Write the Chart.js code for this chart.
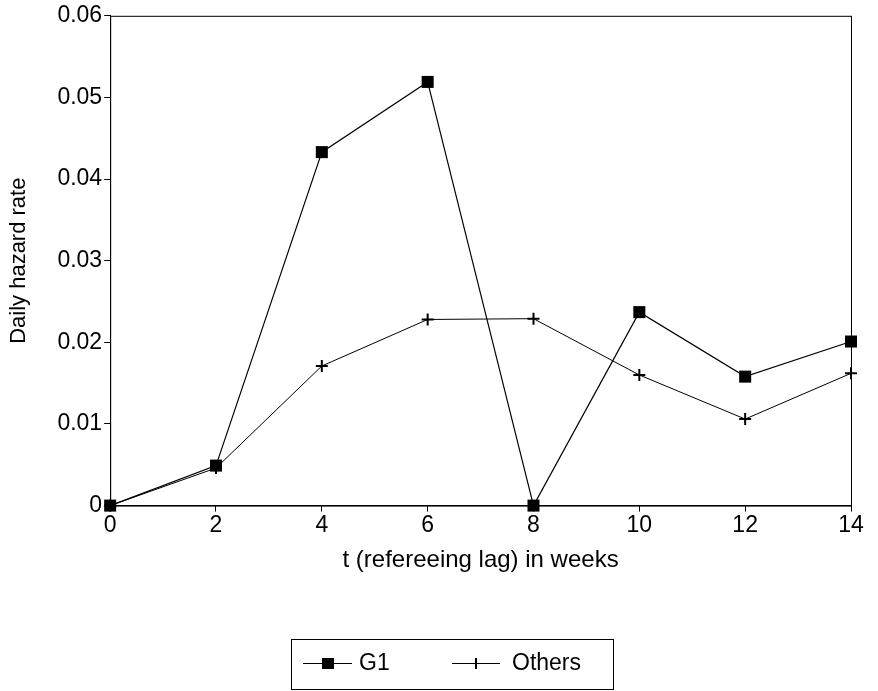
<!DOCTYPE html>
<html>
<head>
<meta charset="utf-8">
<script src="https://cdn.jsdelivr.net/npm/chart.js@4/dist/chart.umd.min.js"></script>
<style>
  html, body { margin: 0; padding: 0; background: #fff; }
  #wrap { width: 878px; height: 691px; }
</style>
</head>
<body>
<div id="wrap"><canvas id="chart" width="878" height="691"></canvas></div>
<script>
// data
const weeks = [0, 2, 4, 6, 8, 10, 12, 14];
const g1 = [0, 0.0049, 0.0433, 0.0519, 0, 0.0237, 0.0158, 0.0201];
const others = [0, 0.0046, 0.0171, 0.0228, 0.0229, 0.0160, 0.0106, 0.0162];
const seriesNames = ['G1', 'Others'];
const xTitle = 't (refereeing lag) in weeks';
const yTitle = 'Daily hazard rate';

const FONT = '"Liberation Sans", Arial, sans-serif';

// frame round the plot + boxed legend under it
const framePlugin = {
    id: 'frame',
    afterDraw(chart) {
        const ctx = chart.ctx;
        const a = chart.chartArea;
        ctx.save();
        ctx.strokeStyle = '#000';
        ctx.lineWidth = 1;
        ctx.strokeRect(a.left + 0.5, a.top + 0.5, a.right - a.left, a.bottom - a.top);

        // legend box
        const bx = 291, by = 639, bw = 322, bh = 50;
        ctx.strokeRect(bx + 0.5, by + 0.5, bw, bh);
        const cy = by + 24;
        ctx.font = '23px ' + FONT;
        ctx.fillStyle = '#000';
        ctx.textBaseline = 'middle';

        // G1 item
        ctx.beginPath();
        ctx.moveTo(303, cy + 0.5); ctx.lineTo(352, cy + 0.5);
        ctx.stroke();
        ctx.fillRect(322, cy - 5, 12, 11);
        ctx.fillText(seriesNames[0], 359, cy + 1);

        // Others item
        ctx.beginPath();
        ctx.moveTo(452, cy + 0.5); ctx.lineTo(500, cy + 0.5);
        ctx.stroke();
        ctx.lineWidth = 2;
        ctx.beginPath();
        ctx.moveTo(476, cy - 5); ctx.lineTo(476, cy + 6);
        ctx.stroke();
        ctx.fillText(seriesNames[1], 512, cy + 1);
        ctx.restore();
    }
};

const toPts = (ys) => weeks.map((w, i) => ({ x: w, y: ys[i] }));

new Chart(document.getElementById('chart').getContext('2d'), {
    type: 'line',
    data: {
        datasets: [{
            label: seriesNames[0],
            data: toPts(g1),
            borderColor: '#000',
            backgroundColor: '#000',
            borderWidth: 1.2,
            pointStyle: 'rect',
            pointRadius: 8.5,
            pointBorderWidth: 0,
            tension: 0
        }, {
            label: seriesNames[1],
            data: toPts(others),
            borderColor: '#000',
            backgroundColor: '#000',
            borderWidth: 1,
            pointStyle: 'cross',
            pointRadius: 6,
            pointBorderWidth: 2,
            tension: 0
        }]
    },
    options: {
        responsive: false,
        animation: false,
        clip: false,
        layout: { padding: { left: 2, right: 27, top: 6, bottom: 112 } },
        plugins: {
            legend: { display: false },
            tooltip: { enabled: false }
        },
        scales: {
            x: {
                type: 'linear',
                min: 0,
                max: 14,
                grid: { drawOnChartArea: false, color: '#000', tickLength: 6 },
                border: { color: '#000' },
                ticks: { stepSize: 2, color: '#000', padding: 0, font: { family: FONT, size: 23 } },
                title: { display: true, text: xTitle, color: '#000', padding: { top: 7 }, font: { family: FONT, size: 24 } }
            },
            y: {
                min: 0,
                max: 0.06,
                grid: { drawOnChartArea: false, color: '#000', tickLength: 6 },
                border: { color: '#000' },
                ticks: {
                    stepSize: 0.01,
                    color: '#000',
                    padding: 2,
                    font: { family: FONT, size: 23 },
                    callback: (v) => v === 0 ? '0' : v.toFixed(2)
                },
                title: { display: true, text: yTitle, color: '#000', padding: { bottom: 23 }, font: { family: FONT, size: 22 } }
            }
        }
    },
    plugins: [framePlugin]
});
</script>
</body>
</html>
